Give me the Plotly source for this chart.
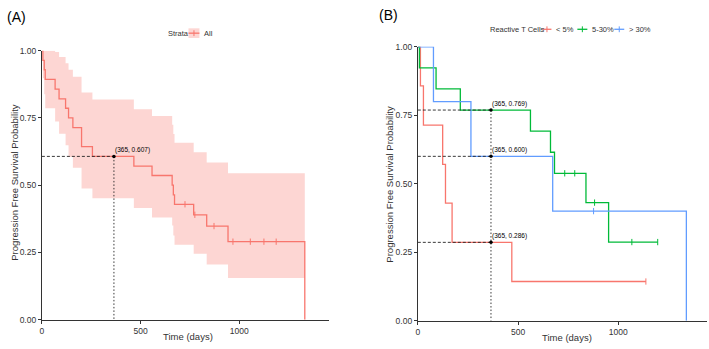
import plotly.graph_objects as go

# ---------------- data ----------------
# Panel A: all patients (Kaplan-Meier step values)
A_times = [0, 5, 12, 17, 67, 87, 120, 135, 157, 201, 256, 466, 558, 660, 666, 672, 769, 835, 943, 1332]
A_surv = [1.0, 0.964, 0.929, 0.893, 0.857, 0.821, 0.786, 0.75, 0.714, 0.643, 0.607, 0.571, 0.536,
          0.50, 0.464, 0.429, 0.39, 0.348, 0.29, 0.0]
A_band_times = [0, 5, 12, 17, 67, 87, 120, 135, 157, 201, 256, 466, 558, 660, 666, 672, 769, 835, 943, 1332]
A_upper = [1.0, 1.0, 1.0, 1.0, 0.995, 0.976, 0.953, 0.929, 0.903, 0.844, 0.818, 0.782, 0.757,
           0.725, 0.69, 0.658, 0.622, 0.584, 0.544, 0.544]
A_lower = [1.0, 0.897, 0.838, 0.786, 0.737, 0.691, 0.648, 0.605, 0.565, 0.488, 0.451, 0.415, 0.38,
           0.35, 0.313, 0.279, 0.245, 0.205, 0.155, 0.155]
A_cens_times = [725, 775, 872, 968, 1056, 1125, 1187]
A_cens_surv = [0.429, 0.39, 0.348, 0.29, 0.29, 0.29, 0.29]

# Panel B: by reactive T cells
B_groups = ["< 5%", "5-30%", "> 30%"]
red_times = [0, 13, 28, 124, 138, 171, 469, 1138]
red_surv = [1.0, 0.857, 0.714, 0.571, 0.429, 0.286, 0.143, 0.143]
red_cens_times = [1138]
red_cens_surv = [0.143]
green_times = [0, 8, 91, 212, 562, 662, 682, 839, 952, 1197]
green_surv = [1.0, 0.923, 0.846, 0.769, 0.692, 0.615, 0.538, 0.431, 0.287, 0.287]
green_cens_times = [733, 783, 882, 1068, 1197]
green_cens_surv = [0.538, 0.538, 0.431, 0.287, 0.287]
blue_times = [0, 78, 265, 673, 1340]
blue_surv = [1.0, 0.8, 0.6, 0.4, 0.0]
blue_cens_times = [877]
blue_cens_surv = [0.4]

landmark_day = 365
A_landmarks = [0.607]
B_landmarks = [0.769, 0.600, 0.286]

x_ticks = [0, 500, 1000]
y_ticks = [0, 0.25, 0.5, 0.75, 1.0]
y_tick_text = ["0.00", "0.25", "0.50", "0.75", "1.00"]

# ---------------- styling ----------------
W, H = 709, 349
RED, GREEN, BLUE = "#F8766D", "#00BA38", "#619CFF"
BAND = "rgba(248,118,109,0.30)"
FONT = "Arial, Liberation Sans, sans-serif"
TXT = "#333333"


def px(x):
    return x / W


def py(y):
    return 1 - y / H


def cens_marker(col):
    return dict(symbol="line-ns-open", size=4.5, color=col, line=dict(color=col, width=1))


fig = go.Figure()

# ---- Panel A ----
fig.add_trace(go.Scatter(x=A_band_times, y=A_lower, mode="lines", line=dict(shape="hv", width=0),
                         xaxis="x", yaxis="y", showlegend=False, hoverinfo="skip"))
fig.add_trace(go.Scatter(x=A_band_times, y=A_upper, mode="lines", line=dict(shape="hv", width=0),
                         fill="tonexty", fillcolor=BAND, xaxis="x", yaxis="y", showlegend=False,
                         hoverinfo="skip"))
fig.add_trace(go.Scatter(x=A_times, y=A_surv, mode="lines", line=dict(shape="hv", color=RED, width=1.3),
                         xaxis="x", yaxis="y", showlegend=False))
fig.add_trace(go.Scatter(x=A_cens_times, y=A_cens_surv, mode="markers", marker=cens_marker(RED),
                         xaxis="x", yaxis="y", showlegend=False))
for v in A_landmarks:
    fig.add_trace(go.Scatter(x=[0, landmark_day], y=[v, v], mode="lines",
                             line=dict(color="#222", width=0.9, dash="3px,2px"),
                             xaxis="x", yaxis="y", showlegend=False))
    fig.add_trace(go.Scatter(x=[landmark_day, landmark_day], y=[v, 0], mode="lines",
                             line=dict(color="#222", width=0.9, dash="1.5px,2px"),
                             xaxis="x", yaxis="y", showlegend=False))
    fig.add_trace(go.Scatter(x=[landmark_day], y=[v], mode="markers",
                             marker=dict(color="black", size=3.5),
                             xaxis="x", yaxis="y", showlegend=False))
    fig.add_annotation(x=landmark_day, y=v, xref="x", yref="y", text=f"({landmark_day}, {v:.3f})",
                       showarrow=False, xanchor="left", yanchor="bottom", xshift=-1, yshift=0,
                       font=dict(size=6.5, color="black", family=FONT))

# ---- Panel B ----
for times, surv, ct, cs, col in [
    (red_times, red_surv, red_cens_times, red_cens_surv, RED),
    (green_times, green_surv, green_cens_times, green_cens_surv, GREEN),
    (blue_times, blue_surv, blue_cens_times, blue_cens_surv, BLUE),
]:
    fig.add_trace(go.Scatter(x=times, y=surv, mode="lines", line=dict(shape="hv", color=col, width=1.3),
                             xaxis="x2", yaxis="y2", showlegend=False))
    fig.add_trace(go.Scatter(x=ct, y=cs, mode="markers", marker=cens_marker(col),
                             xaxis="x2", yaxis="y2", showlegend=False))

top_b = max(B_landmarks)
for v in B_landmarks:
    fig.add_trace(go.Scatter(x=[0, landmark_day], y=[v, v], mode="lines",
                             line=dict(color="#222", width=0.9, dash="3px,2px"),
                             xaxis="x2", yaxis="y2", showlegend=False))
fig.add_trace(go.Scatter(x=[landmark_day, landmark_day], y=[top_b, 0], mode="lines",
                         line=dict(color="#222", width=0.9, dash="1.5px,2px"),
                         xaxis="x2", yaxis="y2", showlegend=False))
for v in B_landmarks:
    fig.add_trace(go.Scatter(x=[landmark_day], y=[v], mode="markers",
                             marker=dict(color="black", size=3.5),
                             xaxis="x2", yaxis="y2", showlegend=False))
    fig.add_annotation(x=landmark_day, y=v, xref="x2", yref="y2", text=f"({landmark_day}, {v:.3f})",
                       showarrow=False, xanchor="left", yanchor="bottom", xshift=-1, yshift=0,
                       font=dict(size=6.5, color="black", family=FONT))

axis_common = dict(showgrid=False, zeroline=False, showline=True, linecolor="#333", linewidth=1,
                   ticks="outside", ticklen=3, tickcolor="#333", tickwidth=1,
                   tickfont=dict(size=8.5, color=TXT, family=FONT), fixedrange=True)

fig.update_layout(
    width=W, height=H, margin=dict(l=0, r=0, t=0, b=0),
    paper_bgcolor="white", plot_bgcolor="white", showlegend=False,
    xaxis=dict(domain=[px(40), px(328)], range=[0, 1455], anchor="y", tickvals=x_ticks, **axis_common),
    yaxis=dict(domain=[py(324), py(47)], range=[0, 1], anchor="x", tickvals=y_ticks,
               ticktext=y_tick_text, **axis_common),
    xaxis2=dict(domain=[px(417), px(707)], range=[0, 1443], anchor="y2", tickvals=x_ticks, **axis_common),
    yaxis2=dict(domain=[py(325), py(43)], range=[0, 1], anchor="x2", tickvals=y_ticks,
                ticktext=y_tick_text, **axis_common),
)

shapes = []
ann = []


def text(x, y, s, size, xanchor="center", angle=0, color=TXT):
    ann.append(dict(x=px(x), y=py(y), xref="paper", yref="paper", text=s, showarrow=False,
                    xanchor=xanchor, yanchor="middle", textangle=angle,
                    font=dict(size=size, color=color, family=FONT)))


def key(x0, x1, y, col, rect=None):
    if rect:
        shapes.append(dict(type="rect", xref="paper", yref="paper", x0=px(x0), x1=px(x1),
                           y0=py(y + 5), y1=py(y - 5), fillcolor=rect, line=dict(width=0)))
    shapes.append(dict(type="line", xref="paper", yref="paper", x0=px(x0), x1=px(x1), y0=py(y), y1=py(y),
                       line=dict(color=col, width=1.3)))
    xm = (x0 + x1) / 2
    shapes.append(dict(type="line", xref="paper", yref="paper", x0=px(xm), x1=px(xm), y0=py(y - 3),
                       y1=py(y + 3), line=dict(color=col, width=1)))


# panel labels
text(3, 12, "(A)", 14, xanchor="left", color="black")
text(376, 10, "(B)", 14, xanchor="left", color="black")

# axis titles
text(187, 341, "Time (days)", 9.5)
text(567, 342, "Time (days)", 9.5)
text(13, 182, "Progression Free Survival Probability", 9.5, angle=-90)
text(389, 184, "Progression Free Survival Probability", 9.5, angle=-90)

# legend A
text(164, 29, "Strata", 7.5, xanchor="left")
key(187, 198, 29, RED, rect=BAND)
text(201, 29, "All", 7.5, xanchor="left")

# legend B
text(487, 25, "Reactive T Cells", 7.5, xanchor="left")
key(542, 551, 25, RED)
text(554, 25, B_groups[0], 7.5, xanchor="left")
key(577, 587, 25, GREEN)
text(590, 25, B_groups[1], 7.5, xanchor="left")
key(614, 624, 25, BLUE)
text(627, 25, B_groups[2], 7.5, xanchor="left")

fig.update_layout(shapes=shapes)
for a in ann:
    fig.add_annotation(**a)

fig.write_html("out.html")
